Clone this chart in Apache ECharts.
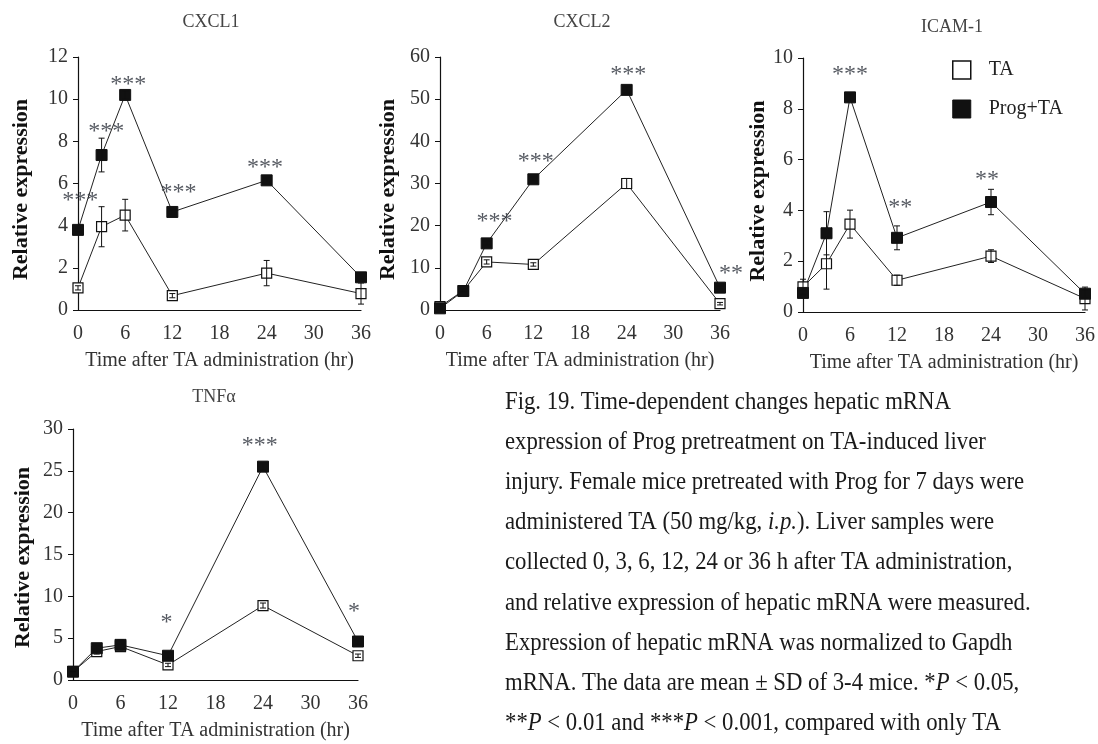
<!DOCTYPE html>
<html>
<head>
<meta charset="utf-8">
<script src="https://cdn.jsdelivr.net/npm/echarts@6/dist/echarts.min.js"></script>
<style>
html,body{margin:0;padding:0;background:#fff;}
#main{width:1098px;height:744px;}
</style>
</head>
<body>
<div id="main"></div>
<script>
// ---- data ----
const times = [0, 3, 6, 12, 24, 36];
const xTicks = [0, 6, 12, 18, 24, 30, 36];

const panelTitles = ['CXCL1', 'CXCL2', 'ICAM-1', 'TNF\u03b1'];
const yMax = [12, 60, 10, 30];
const yStep = [2, 10, 2, 5];

const cxcl1TA = [1.05, 3.95, 4.5, 0.68, 1.75, 0.78];
const cxcl1TAsd = [0.1, 0.95, 0.75, 0.1, 0.6, 0.5];
const cxcl1Prog = [3.8, 7.35, 10.2, 4.65, 6.15, 1.55];
const cxcl1ProgSd = [0.1, 0.8, 0.2, 0.1, 0.1, 0.1];
const cxcl1Stars = [[0.3, 5.4, '***'], [3.6, 8.7, '***'], [6.4, 10.9, '***'], [12.8, 5.8, '***'], [23.8, 7.0, '***']];

const cxcl2TA = [0.8, 4.6, 11.4, 10.8, 30.0, 1.5];
const cxcl2TAsd = [0.3, 0.3, 0.5, 0.4, 1.2, 0.3];
const cxcl2Prog = [0.4, 4.5, 15.8, 31.0, 52.2, 5.3];
const cxcl2ProgSd = [0.3, 0.3, 0.5, 0.5, 0.8, 0.4];
const cxcl2Stars = [[7.0, 22.2, '***'], [12.3, 36.4, '***'], [24.2, 57.0, '***'], [37.4, 9.9, '**']];

const icamTA = [0.99, 1.9, 3.46, 1.25, 2.2, 0.53];
const icamTAsd = [0.3, 1.0, 0.55, 0.2, 0.25, 0.45];
const icamProg = [0.75, 3.1, 8.45, 2.92, 4.33, 0.72];
const icamProgSd = [0.1, 0.85, 0.15, 0.47, 0.5, 0.15];
const icamStars = [[6.0, 9.55, '***'], [12.4, 4.3, '**'], [23.5, 5.4, '**']];

const tnfTA = [1.0, 3.4, 4.0, 1.8, 8.9, 2.9];
const tnfTAsd = [0.1, 0.3, 0.3, 0.2, 0.3, 0.2];
const tnfProg = [1.0, 3.8, 4.2, 2.9, 25.5, 4.6];
const tnfProgSd = [0.1, 0.3, 0.6, 0.3, 0.4, 0.3];
const tnfStars = [[11.8, 7.4, '*'], [23.6, 28.6, '***'], [35.5, 8.8, '*']];

const captionLines = [
  'Fig. 19. Time-dependent changes hepatic mRNA',
  'expression of Prog pretreatment on TA-induced liver',
  'injury. Female mice pretreated with Prog for 7 days were',
  'administered TA (50 mg/kg, {i|i.p.}). Liver samples were',
  'collected 0, 3, 6, 12, 24 or 36 h after TA administration,',
  'and relative expression of hepatic mRNA were measured.',
  'Expression of hepatic mRNA was normalized to Gapdh',
  'mRNA. The data are mean \u00b1 SD of 3-4 mice. *{i|P} < 0.05,',
  '**{i|P} < 0.01 and ***{i|P} < 0.001, compared with only TA'
];

// ---- layout ----
const SERIF = '"Liberation Serif", "DejaVu Serif", serif';
const grids = [
  {left: 78, top: 57, width: 283, height: 253},
  {left: 440, top: 57, width: 280, height: 253},
  {left: 803, top: 58, width: 287, height: 254},
  {left: 73, top: 429, width: 285, height: 251}
];
const titlePos = [[211, 22], [582, 22], [952, 27], [214, 397]];
const yNameGap = [46, 41, 29, 39];
const yNameShift = [12, 12, 12, 6];

const panels = [
  {ta: cxcl1TA, taSd: cxcl1TAsd, pr: cxcl1Prog, prSd: cxcl1ProgSd, stars: cxcl1Stars},
  {ta: cxcl2TA, taSd: cxcl2TAsd, pr: cxcl2Prog, prSd: cxcl2ProgSd, stars: cxcl2Stars},
  {ta: icamTA, taSd: icamTAsd, pr: icamProg, prSd: icamProgSd, stars: icamStars},
  {ta: tnfTA, taSd: tnfTAsd, pr: tnfProg, prSd: tnfProgSd, stars: tnfStars}
];

const xAxes = [], yAxes = [], series = [];
grids.forEach((g, i) => {
  xAxes.push({
    type: 'value', gridIndex: i, min: 0, max: 36, interval: 6,
    splitLine: {show: false},
    axisLine: {lineStyle: {color: '#111', width: 1.2}},
    axisTick: {show: false},
    axisLabel: {margin: 14, fontFamily: SERIF, fontSize: 20, color: '#333'},
    name: 'Time after TA administration (hr)', nameLocation: 'middle', nameGap: 41,
    nameTextStyle: {fontFamily: SERIF, fontSize: 20, color: '#333'}
  });
  yAxes.push({
    type: 'value', gridIndex: i, min: 0, max: yMax[i], interval: yStep[i],
    splitLine: {show: false},
    axisLine: {show: true, lineStyle: {color: '#111', width: 1.2}},
    axisTick: {show: true, length: 5, lineStyle: {color: '#111'}},
    axisLabel: {margin: 10, fontFamily: SERIF, fontSize: 20, color: '#333'},
    name: 'Relative expression', nameLocation: 'middle', nameGap: yNameGap[i],
    nameTextStyle: {fontFamily: SERIF, fontSize: 22, fontWeight: 'bold', color: '#111',
      padding: [0, yNameShift[i], 0, 0]}
  });
  const p = panels[i];
  const taData = times.map((t, k) => [t, p.ta[k]]);
  const prData = times.map((t, k) => [t, p.pr[k]]);
  series.push({
    name: 'TA', type: 'line', xAxisIndex: i, yAxisIndex: i, data: taData,
    symbol: 'rect', symbolSize: 10, z: 3,
    itemStyle: {color: '#fff', borderColor: '#111', borderWidth: 1.2},
    lineStyle: {color: '#222', width: 1}
  });
  series.push({
    name: 'Prog+TA', type: 'line', xAxisIndex: i, yAxisIndex: i, data: prData,
    symbol: 'rect', symbolSize: 11, z: 3,
    itemStyle: {color: '#111', borderColor: '#111', borderWidth: 1},
    lineStyle: {color: '#222', width: 1}
  });
  const errData = [];
  times.forEach((t, k) => {
    errData.push([t, p.ta[k] - p.taSd[k], p.ta[k] + p.taSd[k]]);
    errData.push([t, p.pr[k] - p.prSd[k], p.pr[k] + p.prSd[k]]);
  });
  series.push({
    type: 'custom', xAxisIndex: i, yAxisIndex: i, data: errData, z: 4, silent: true,
    renderItem: function (params, api) {
      const x = api.value(0);
      const lo = Math.max(0, api.value(1));
      const hi = api.value(2);
      const a = api.coord([x, hi]);
      const b = api.coord([x, lo]);
      const w = 3;
      const st = {stroke: '#111', lineWidth: 1};
      return {type: 'group', children: [
        {type: 'line', shape: {x1: a[0], y1: a[1], x2: b[0], y2: b[1]}, style: st},
        {type: 'line', shape: {x1: a[0] - w, y1: a[1], x2: a[0] + w, y2: a[1]}, style: st},
        {type: 'line', shape: {x1: b[0] - w, y1: b[1], x2: b[0] + w, y2: b[1]}, style: st}
      ]};
    }
  });
  series.push({
    type: 'scatter', xAxisIndex: i, yAxisIndex: i, data: p.stars, symbolSize: 0,
    clip: false, silent: true, z: 5,
    label: {
      show: true, position: 'inside', offset: [0, 5],
      formatter: (d) => d.data[2],
      fontFamily: SERIF, fontSize: 24, color: '#2a2f3a'
    }
  });
});

const graphics = [];
panelTitles.forEach((t, i) => {
  graphics.push({
    type: 'text', x: titlePos[i][0], y: titlePos[i][1],
    style: {text: t, align: 'center', verticalAlign: 'middle',
      font: '18px ' + SERIF, fill: '#444'}
  });
});
captionLines.forEach((line, k) => {
  graphics.push({
    type: 'text', x: 505, y: 402 + k * 40.2, scaleX: 0.91,
    style: {
      text: line, align: 'left', verticalAlign: 'middle',
      font: '25px ' + SERIF, fill: '#1a1a1a',
      rich: {i: {fontStyle: 'italic', fontFamily: SERIF, fontSize: 25, fill: '#1a1a1a'}}
    }
  });
});

const chart = echarts.init(document.getElementById('main'), null, {renderer: 'canvas'});
chart.setOption({
  animation: false,
  backgroundColor: '#fff',
  grid: grids,
  xAxis: xAxes,
  yAxis: yAxes,
  legend: {
    orient: 'vertical', left: 952, top: 60, padding: 0, itemGap: 19, itemWidth: 18, itemHeight: 18,
    icon: 'rect', selectedMode: false,
    textStyle: {fontFamily: SERIF, fontSize: 20, color: '#222', padding: [0, 0, 0, 13]},
    data: [
      {name: 'TA', itemStyle: {color: '#fff', borderColor: '#111', borderWidth: 1.5}},
      {name: 'Prog+TA', itemStyle: {color: '#111', borderColor: '#111', borderWidth: 1}}
    ]
  },
  series: series,
  graphic: graphics
});
</script>
</body>
</html>
